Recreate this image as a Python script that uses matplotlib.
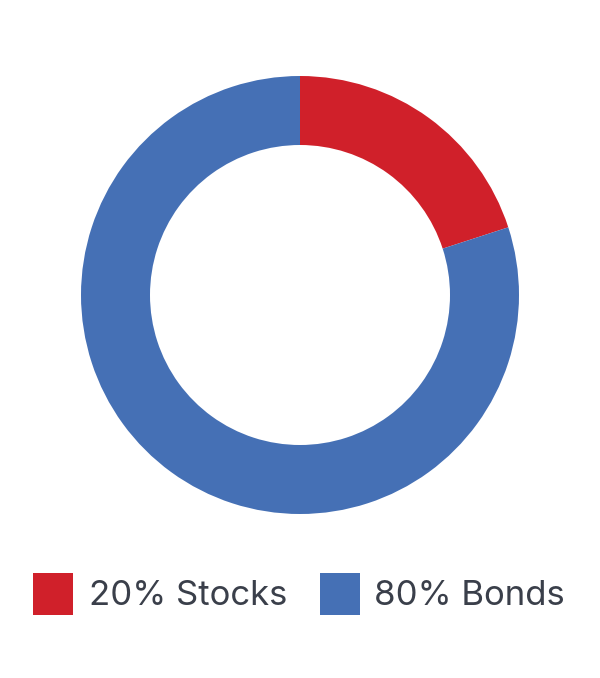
import matplotlib
matplotlib.use("Agg")
import matplotlib.pyplot as plt
from matplotlib.patches import Rectangle

categories = ["Stocks", "Bonds"]
values = [20, 80]
colors = ["#D0202A", "#4570B5"]

W, H = 600, 678
fig = plt.figure(figsize=(W / 100, H / 100), dpi=100)
ax = fig.add_axes([0, 0, 1, 1])

outer = 219
ax.pie(values, colors=colors, startangle=90, counterclock=False,
       radius=outer, center=(300, H - 295), frame=True,
       wedgeprops=dict(width=69, linewidth=0))
ax.set_xlim(0, W)
ax.set_ylim(0, H)
ax.set_aspect("equal")
ax.axis("off")

legend_x = [33, 320]
text_x = [89, 374]
yc = H - 594
for i, (cat, v, c) in enumerate(zip(categories, values, colors)):
    ax.add_patch(Rectangle((legend_x[i], yc - 21), 40, 42, facecolor=c, edgecolor="none"))
    ax.text(text_x[i], H - 605, f"{v}% {cat}", fontsize=25, color="#3a3f4a",
            va="baseline", ha="left", family=["Inter", "DejaVu Sans"])

fig.savefig("out.png", dpi=100)
